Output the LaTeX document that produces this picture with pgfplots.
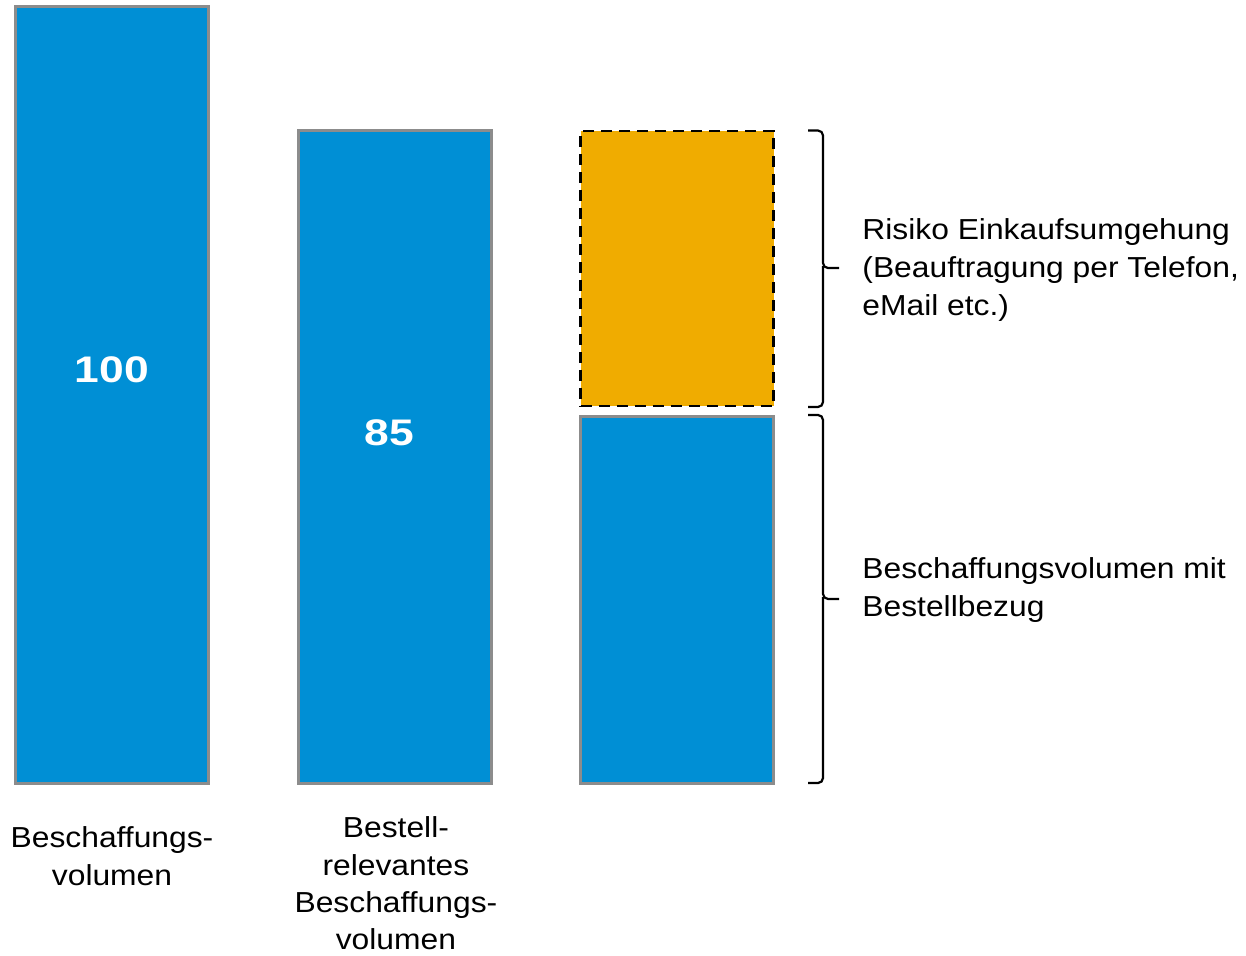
\documentclass[border=0pt]{standalone}
\usepackage{fontspec}
\setmainfont{Liberation Sans}[FakeStretch=1.1]
\newfontfamily\numfont{Liberation Sans}[FakeStretch=1.2]
\usepackage{pgfplots}
\pgfplotsset{compat=1.18}
\definecolor{barblue}{HTML}{008FD5}
\definecolor{barorange}{HTML}{F0AC00}
\definecolor{bordergray}{HTML}{8C8C8C}
\pgfplotsset{base/.style={width=623pt,height=478pt,scale only axis,hide axis,clip=false,
  xmin=-0.3965,xmax=4.0142,ymin=-22.2,ymax=100.84,bar width=96.5pt}}
\begin{document}
\begin{tikzpicture}[font=\fontsize{14.45}{19}\selectfont]
\begin{axis}[base, ybar, bar shift=0pt]
\addplot[fill=barblue, draw=bordergray, line width=1.5pt] coordinates {(0,100) (1,84)};
\node[text=white,font=\numfont\bfseries\fontsize{18.5}{20}\selectfont] at (axis cs:0,53.2) {100};
\node[text=white,font=\numfont\bfseries\fontsize{18.5}{20}\selectfont] at (axis cs:0.982,45.2) {85};
\node[anchor=base,inner sep=0pt] at (axis cs:0,-8.30) {Beschaffungs-};
\node[anchor=base,inner sep=0pt] at (axis cs:0,-13.19) {volumen};
\node[anchor=base,inner sep=0pt] at (axis cs:1.005,-6.95) {Bestell-};
\node[anchor=base,inner sep=0pt] at (axis cs:1.005,-11.8) {relevantes};
\node[anchor=base,inner sep=0pt] at (axis cs:1.005,-16.65) {Beschaffungs-};
\node[anchor=base,inner sep=0pt] at (axis cs:1.005,-21.4) {volumen};
\end{axis}
\begin{axis}[base, ybar stacked]
\addplot[fill=barblue, draw=bordergray, line width=1.5pt] coordinates {(2,47.2)};
\addplot[fill=none, draw=none] coordinates {(2,1.4)};
\addplot[fill=barorange, draw=black, line width=1.3pt, dash pattern=on 5.5pt off 3.5pt] coordinates {(2,35.4)};
\draw[line width=1.1pt, rounded corners=2.5pt] (axis cs:2.4637,84.04) -- (axis cs:2.5168,84.04) -- (axis cs:2.5168,66.34) -- (axis cs:2.5735,66.34);
\draw[line width=1.1pt, rounded corners=2.5pt] (axis cs:2.5168,66.6) -- (axis cs:2.5168,48.46) -- (axis cs:2.4637,48.46);
\draw[line width=1.1pt, rounded corners=2.5pt] (axis cs:2.4637,47.43) -- (axis cs:2.5168,47.43) -- (axis cs:2.5168,23.75) -- (axis cs:2.5735,23.75);
\draw[line width=1.1pt, rounded corners=2.5pt] (axis cs:2.5168,24.0) -- (axis cs:2.5168,0.06) -- (axis cs:2.4637,0.06);
\node[anchor=base west,inner sep=0pt] at (axis cs:2.655,69.95) {Risiko Einkaufsumgehung};
\node[anchor=base west,inner sep=0pt] at (axis cs:2.655,65.06) {(Beauftragung per Telefon,};
\node[anchor=base west,inner sep=0pt] at (axis cs:2.655,60.17) {eMail etc.)};
\node[anchor=base west,inner sep=0pt] at (axis cs:2.655,26.32) {Beschaffungsvolumen mit};
\node[anchor=base west,inner sep=0pt] at (axis cs:2.655,21.43) {Bestellbezug};
\end{axis}
\pgfresetboundingbox
\useasboundingbox (0,0) rectangle (623pt,478pt);
\end{tikzpicture}
\end{document}
